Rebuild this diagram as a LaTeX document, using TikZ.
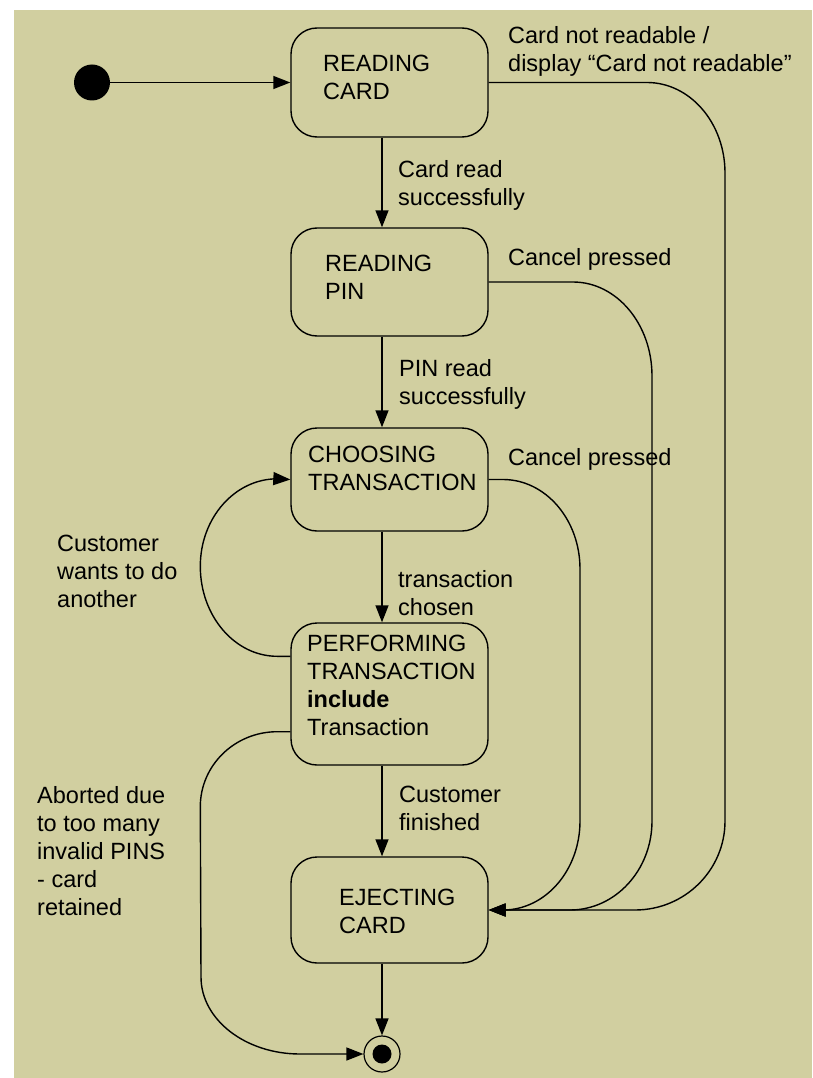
\documentclass[tikz,border=0pt]{standalone}
\usepackage{fontspec}
\setmainfont{Liberation Sans}
\usetikzlibrary{arrows.meta,calc}
\definecolor{khaki}{RGB}{209,207,160}
\begin{document}
\begin{tikzpicture}[x=1pt,y=-1pt,
  every node/.style={font=\fontsize{23.5}{28}\selectfont, text=black, inner sep=0pt},
  state/.style={draw, line width=1.4pt, rounded corners=26pt, minimum width=197pt},
  txt/.style={anchor=north west, align=left},
  trans/.style={draw, line width=1.4pt, -{Triangle[length=17pt,width=13pt]}},
]
% page and background
\useasboundingbox (0,0) rectangle (812,1078);
\fill[white] (0,0) rectangle (812,1078);
\fill[khaki] (14,10) rectangle (812,1078);

% states
\node[state, minimum height=109pt] (rc) at (389.5,82.5) {};
\node[state, minimum height=108pt] (rp) at (389.5,282) {};
\node[state, minimum height=103pt] (ct) at (389.5,479.5) {};
\node[state, minimum height=142pt] (pt) at (389.5,694) {};
\node[state, minimum height=106pt] (ec) at (389.5,910) {};
\node[circle, fill=black, minimum size=36pt] (init) at (92,82.5) {};
\node[circle, draw, line width=1.2pt, minimum size=36pt] (fin) at (382,1054) {};
\node[circle, fill=black, minimum size=19pt] (findot) at (fin) {};

% state names
\node[txt] (rc-t) at (323,55) {READING\\CARD};
\node[txt] (rp-t) at (325,255) {READING\\PIN};
\node[txt] (ct-t) at (308,446) {CHOOSING\\TRANSACTION};
\node[txt] (pt-t) at (307,635) {PERFORMING\\TRANSACTION\\\textbf{include}\\Transaction};
\node[txt] (ec-t) at (339,889) {EJECTING\\CARD};

% transition labels
\node[txt] (l-notread) at (508,26) {Card not readable /\\display “Card not readable”};
\node[txt] (l-cardread) at (398,160) {Card read\\successfully};
\node[txt] (l-cancel1) at (508,248) {Cancel pressed};
\node[txt] (l-pinread) at (399,359) {PIN read\\successfully};
\node[txt] (l-cancel2) at (508,448) {Cancel pressed};
\node[txt] (l-another) at (57,535) {Customer\\wants to do\\another};
\node[txt] (l-chosen) at (398,570) {transaction\\chosen};
\node[txt] (l-finished) at (399,786) {Customer\\finished};
\node[txt] (l-aborted) at (37,786) {Aborted due\\to too many\\invalid PINS\\- card\\retained};

% main flow
\coordinate (vx) at (382,0);
\draw[trans] (init.east) -- (rc.west);
\draw[trans] (rc.south -| vx) -- (rp.north -| vx);
\draw[trans] (rp.south -| vx) -- (ct.north -| vx);
\draw[trans] (ct.south -| vx) -- (pt.north -| vx);
\draw[trans] (pt.south -| vx) -- (ec.north -| vx);
\draw[trans] (ec.south -| vx) -- (fin.north);

% exits to ejecting card
\draw[trans] (rc.east) -- (647,82.5)
  arc[start angle=270,end angle=360,x radius=78,y radius=90.5] -- (725,821)
  arc[start angle=0,end angle=90,x radius=90,y radius=89] -- (ec.east);
\draw[trans] (rp.east) -- (573,282)
  arc[start angle=270,end angle=360,x radius=79,y radius=94] -- (652,821)
  arc[start angle=0,end angle=90,x radius=82,y radius=89] -- (ec.east);
\draw[trans] (ct.east) -- (503,479.5)
  arc[start angle=270,end angle=360,x radius=77,y radius=89.5] -- (580,821)
  arc[start angle=0,end angle=90,x radius=77,y radius=89] -- (ec.east);

% another transaction loop
\draw[trans] ($(pt.north west)+(0,34)$) -- ++(-13,0)
  arc[start angle=90,end angle=180,x radius=77,y radius=90]
  arc[start angle=180,end angle=270,x radius=77,y radius=87.5] -- (ct.west);

% aborted: card retained
\draw[trans] ($(pt.south west)+(0,-34)$) -- ++(-13,0)
  arc[start angle=270,end angle=180,x radius=77,y radius=75] -- (201,977)
  arc[start angle=180,end angle=90,x radius=99,y radius=77] -- (fin.west);
\end{tikzpicture}
\end{document}
